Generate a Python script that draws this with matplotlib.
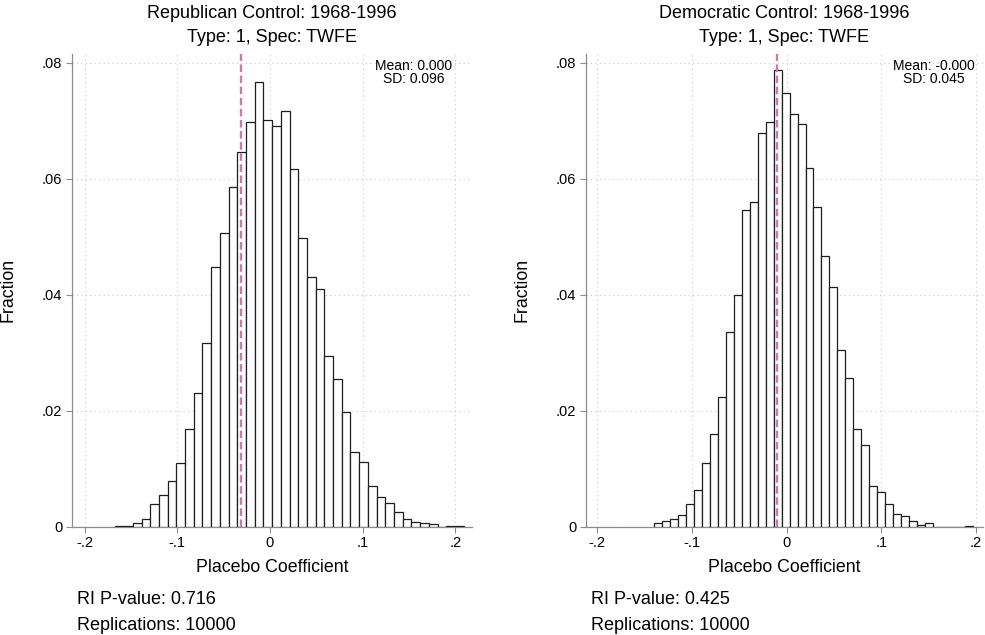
import numpy as np
import matplotlib
matplotlib.use("Agg")
import matplotlib.pyplot as plt

plt.rcParams['font.family'] = ['Liberation Sans', 'DejaVu Sans']

# ---------------- data ----------------
titles = ["Republican Control: 1968-1996", "Democratic Control: 1968-1996"]
subtitle = "Type: 1, Spec: TWFE"

rep_min, rep_max = -0.1667, 0.2090
rep_fraction = [0.0002, 0.0002, 0.0007, 0.0014, 0.0039, 0.0055, 0.0078, 0.0110,
                0.0169, 0.0231, 0.0317, 0.0447, 0.0507, 0.0585, 0.0646, 0.0697,
                0.0767, 0.0702, 0.0691, 0.0716, 0.0617, 0.0498, 0.0431, 0.0410,
                0.0295, 0.0255, 0.0197, 0.0128, 0.0112, 0.0071, 0.0051, 0.0041,
                0.0025, 0.0013, 0.0008, 0.0006, 0.0005, 0.0000, 0.0001, 0.0001]
rep_line = -0.031
rep_stats = ("Mean: 0.000", "SD: 0.096")
rep_notes = ("RI P-value: 0.716", "Replications: 10000")

dem_min, dem_max = -0.1401, 0.1966
dem_fraction = [0.0007, 0.0009, 0.0013, 0.0021, 0.0039, 0.0063, 0.0109, 0.0160,
                0.0224, 0.0336, 0.0399, 0.0546, 0.0560, 0.0678, 0.0698, 0.0787,
                0.0748, 0.0711, 0.0694, 0.0618, 0.0552, 0.0466, 0.0414, 0.0305,
                0.0257, 0.0168, 0.0141, 0.0071, 0.0060, 0.0039, 0.0022, 0.0019,
                0.0009, 0.0003, 0.0007, 0.0000, 0.0000, 0.0000, 0.0000, 0.0001]
dem_line = -0.010
dem_stats = ("Mean: -0.000", "SD: 0.045")
dem_notes = ("RI P-value: 0.425", "Replications: 10000")

x_ticks = [-0.2, -0.1, 0.0, 0.1, 0.2]
x_tick_labels = ["-.2", "-.1", "0", ".1", ".2"]
y_ticks = [0.0, 0.02, 0.04, 0.06, 0.08]
y_tick_labels = ["0", ".02", ".04", ".06", ".08"]

# ---------------- figure ----------------
W, H = 985, 635
fig = plt.figure(figsize=(W / 100, H / 100), dpi=100)

panels = [
    dict(rect=[72 / W, 1 - 526.7 / H, 400 / W, 472.7 / H], xlim=(-0.2135, 0.2180),
         lo=rep_min, hi=rep_max, frac=rep_fraction, line=rep_line,
         stats=rep_stats, notes=rep_notes, title=titles[0], stat_x=414,
         ylab_x=17),
    dict(rect=[586 / W, 1 - 526.7 / H, 397 / W, 472.7 / H], xlim=(-0.2120, 0.2073),
         lo=dem_min, hi=dem_max, frac=dem_fraction, line=dem_line,
         stats=dem_stats, notes=dem_notes, title=titles[1], stat_x=934,
         ylab_x=531),
]

grid_col = "#c8c8c8"
axis_col = "#8c8c8c"

for p in panels:
    ax = fig.add_axes(p["rect"])
    frac = np.array(p["frac"])
    edges = np.linspace(p["lo"], p["hi"], len(frac) + 1)
    ax.bar(edges[:-1], frac, width=np.diff(edges), align="edge",
           facecolor="white", edgecolor="#1e1e1e", linewidth=0.9, zorder=3)
    ax.axvline(p["line"], color="#cc79a7", linestyle=(0, (3.2, 1.5)),
               linewidth=1.7, zorder=4)

    ax.set_xlim(*p["xlim"])
    ax.set_ylim(0, 0.0815)
    ax.set_xticks(x_ticks)
    ax.set_xticklabels(x_tick_labels)
    ax.set_yticks(y_ticks)
    ax.set_yticklabels(y_tick_labels)
    ax.tick_params(axis="both", direction="out", length=4, width=0.8,
                   color=axis_col, labelsize=10.5, pad=3)
    ax.grid(True, color=grid_col, linestyle=(0, (1, 3)), linewidth=0.8, zorder=0)
    for s in ["top", "right"]:
        ax.spines[s].set_visible(False)
    for s in ["left", "bottom"]:
        ax.spines[s].set_color(axis_col)
        ax.spines[s].set_linewidth(0.9)

    ax.set_xlabel("Placebo Coefficient", fontsize=12.8, labelpad=6)
    ax.set_ylabel("Fraction", fontsize=12.8)
    bb = p["rect"]
    ax.yaxis.set_label_coords((p["ylab_x"] - bb[0] * W) / (bb[2] * W), 0.5)

    # titles
    cx = bb[0] + bb[2] / 2
    fig.text(cx, 1 - 14 / H, p["title"], ha="center", va="center", fontsize=13)
    fig.text(cx, 1 - 38 / H, subtitle, ha="center", va="center", fontsize=13)

    # mean / sd box
    fig.text(p["stat_x"] / W, 1 - 66 / H, p["stats"][0], ha="center",
             va="center", fontsize=10)
    fig.text(p["stat_x"] / W, 1 - 79 / H, p["stats"][1], ha="center",
             va="center", fontsize=10)

    # notes
    fig.text(bb[0] + 5 / W, 1 - 599 / H, p["notes"][0], ha="left",
             va="center", fontsize=13)
    fig.text(bb[0] + 5 / W, 1 - 625 / H, p["notes"][1], ha="left",
             va="center", fontsize=13)

fig.savefig("out.png", dpi=100, facecolor="white")
